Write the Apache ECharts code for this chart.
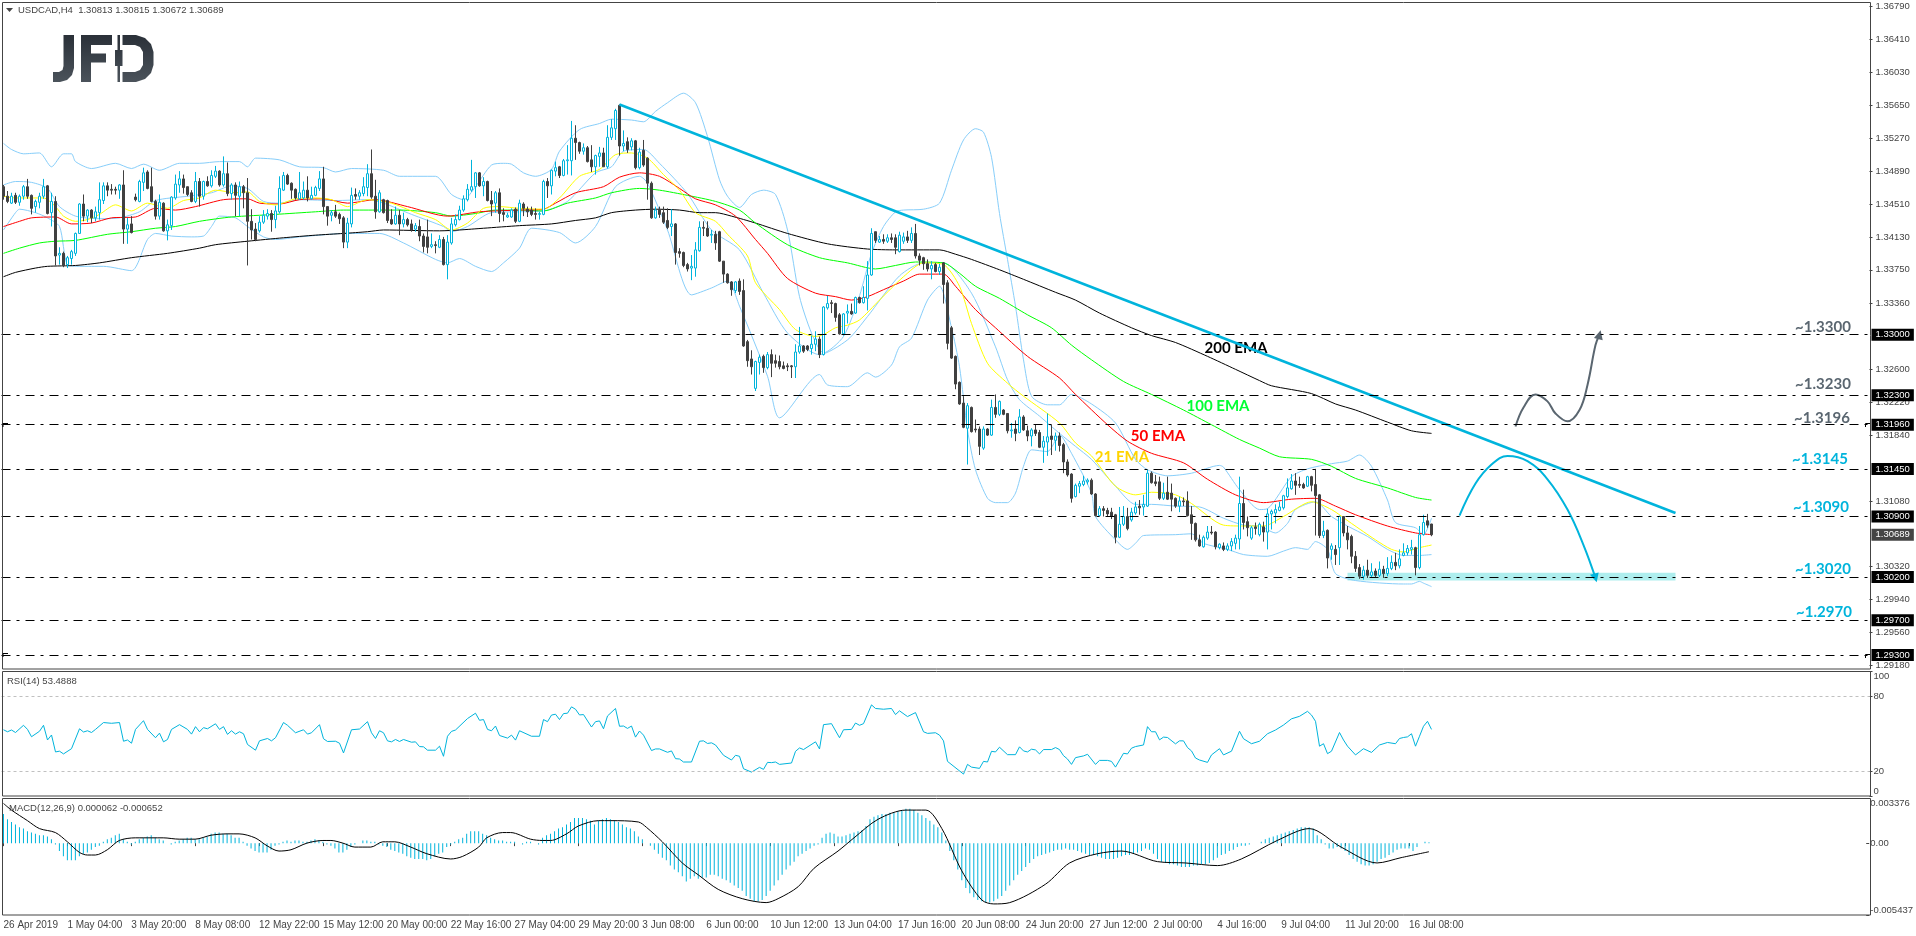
<!DOCTYPE html>
<html>

<head>
    <meta charset="utf-8">
    <script type="text/javascript" src="https://cdn.jsdelivr.net/npm/echarts@6/dist/echarts.min.js"></script>
    <title>USDCAD,H4</title>
    <style>html,body{margin:0;padding:0;background:#fff}</style>
</head>

<body>
    <div id="container" style="width:1916px;height:936px;"></div>
    <script type="text/javascript">
    // time axis, one label every 16 H4 bars
    var timeLabels = ['26 Apr 2019','1 May 04:00','3 May 20:00','8 May 08:00','12 May 22:00','15 May 12:00','20 May 00:00','22 May 16:00','27 May 04:00','29 May 20:00','3 Jun 08:00','6 Jun 00:00','10 Jun 12:00','13 Jun 04:00','17 Jun 16:00','20 Jun 08:00','24 Jun 20:00','27 Jun 12:00','2 Jul 00:00','4 Jul 16:00','9 Jul 04:00','11 Jul 20:00','16 Jul 08:00'];
    var priceTicks = [1.3679,1.3641,1.3603,1.3565,1.3527,1.3489,1.3451,1.3413,1.3375,1.3336,1.326,1.3222,1.3184,1.3108,1.3032,1.2994,1.2956,1.2918];
    var levels = [1.33,1.323,1.3196,1.3145,1.309,1.302,1.297,1.293];
    var lastPrice = 1.30689;
    var rsiTicks = [0,20,80,100];
    var macdTicks = [-0.005437,0,0.003376];

    // open, close, low, high
    var candles = [
    [1.3471,1.3460,1.3456,1.3473],[1.3460,1.3454,1.3452,1.3466],[1.3452,1.3460,1.3451,1.3464],[1.3461,1.3453,1.3451,1.3464],[1.3453,1.3460,1.3449,1.3462],[1.3460,1.3471,1.3456,1.3473],[1.3471,1.3460,1.3457,1.3480],[1.3461,1.3446,1.3439,1.3462],[1.3448,1.3454,1.3441,1.3456],[1.3453,1.3460,1.3446,1.3464],
    [1.3460,1.3471,1.3457,1.3480],[1.3472,1.3440,1.3439,1.3473],[1.3441,1.3454,1.3425,1.3464],[1.3454,1.3391,1.3380,1.3460],[1.3392,1.3394,1.3381,1.3401],[1.3394,1.3380,1.3378,1.3396],[1.3381,1.3389,1.3377,1.3391],[1.3388,1.3396,1.3381,1.3398],[1.3394,1.3417,1.3391,1.3418],[1.3417,1.3451,1.3417,1.3452],
    [1.3451,1.3437,1.3431,1.3462],[1.3437,1.3444,1.3430,1.3445],[1.3444,1.3435,1.3429,1.3445],[1.3435,1.3442,1.3431,1.3448],[1.3441,1.3456,1.3433,1.3476],[1.3455,1.3472,1.3451,1.3476],[1.3472,1.3467,1.3460,1.3476],[1.3468,1.3467,1.3462,1.3474],[1.3468,1.3467,1.3462,1.3471],[1.3467,1.3473,1.3457,1.3474],
    [1.3473,1.3422,1.3405,1.3490],[1.3422,1.3427,1.3405,1.3435],[1.3428,1.3418,1.3417,1.3437],[1.3459,1.3456,1.3454,1.3463],[1.3454,1.3477,1.3453,1.3479],[1.3476,1.3487,1.3466,1.3493],[1.3488,1.3469,1.3468,1.3490],[1.3471,1.3454,1.3453,1.3493],[1.3454,1.3437,1.3433,1.3456],[1.3437,1.3453,1.3433,1.3462],
    [1.3452,1.3420,1.3419,1.3453],[1.3420,1.3427,1.3409,1.3433],[1.3426,1.3459,1.3421,1.3460],[1.3458,1.3474,1.3456,1.3485],[1.3473,1.3480,1.3464,1.3489],[1.3480,1.3470,1.3463,1.3485],[1.3471,1.3462,1.3460,1.3471],[1.3464,1.3454,1.3453,1.3467],[1.3454,1.3477,1.3452,1.3488],[1.3477,1.3460,1.3448,1.3481],
    [1.3460,1.3477,1.3456,1.3478],[1.3477,1.3472,1.3471,1.3483],[1.3472,1.3484,1.3470,1.3490],[1.3483,1.3489,1.3481,1.3495],[1.3489,1.3473,1.3471,1.3490],[1.3473,1.3486,1.3471,1.3506],[1.3486,1.3463,1.3460,1.3499],[1.3463,1.3473,1.3456,1.3475],[1.3473,1.3461,1.3437,1.3476],[1.3460,1.3471,1.3437,1.3477],
    [1.3471,1.3464,1.3446,1.3473],[1.3464,1.3431,1.3380,1.3481],[1.3431,1.3421,1.3410,1.3445],[1.3422,1.3410,1.3408,1.3429],[1.3420,1.3430,1.3418,1.3437],[1.3430,1.3438,1.3428,1.3444],[1.3437,1.3440,1.3433,1.3445],[1.3440,1.3433,1.3419,1.3444],[1.3433,1.3443,1.3423,1.3449],[1.3442,1.3469,1.3440,1.3483],
    [1.3467,1.3484,1.3466,1.3488],[1.3484,1.3474,1.3473,1.3486],[1.3475,1.3467,1.3457,1.3476],[1.3468,1.3458,1.3456,1.3469],[1.3457,1.3464,1.3456,1.3488],[1.3458,1.3467,1.3456,1.3477],[1.3467,1.3458,1.3454,1.3483],[1.3457,1.3461,1.3456,1.3471],[1.3461,1.3470,1.3460,1.3472],[1.3469,1.3480,1.3466,1.3489],
    [1.3480,1.3448,1.3439,1.3494],[1.3448,1.3437,1.3426,1.3448],[1.3438,1.3441,1.3431,1.3444],[1.3442,1.3437,1.3435,1.3450],[1.3439,1.3434,1.3428,1.3441],[1.3435,1.3407,1.3400,1.3437],[1.3407,1.3429,1.3400,1.3435],[1.3428,1.3461,1.3424,1.3470],[1.3462,1.3460,1.3456,1.3469],[1.3460,1.3464,1.3456,1.3467],
    [1.3463,1.3471,1.3460,1.3482],[1.3470,1.3486,1.3460,1.3497],[1.3486,1.3459,1.3457,1.3514],[1.3460,1.3442,1.3434,1.3479],[1.3442,1.3464,1.3441,1.3467],[1.3456,1.3441,1.3440,1.3457],[1.3455,1.3432,1.3429,1.3456],[1.3433,1.3428,1.3427,1.3445],[1.3428,1.3438,1.3427,1.3448],[1.3438,1.3428,1.3415,1.3444],
    [1.3428,1.3433,1.3424,1.3441],[1.3433,1.3427,1.3425,1.3435],[1.3428,1.3421,1.3419,1.3433],[1.3422,1.3426,1.3419,1.3429],[1.3425,1.3414,1.3408,1.3433],[1.3414,1.3402,1.3395,1.3417],[1.3413,1.3401,1.3394,1.3433],[1.3402,1.3404,1.3400,1.3417],[1.3404,1.3403,1.3394,1.3408],[1.3401,1.3410,1.3400,1.3415],
    [1.3410,1.3381,1.3380,1.3413],[1.3381,1.3407,1.3364,1.3415],[1.3406,1.3428,1.3404,1.3435],[1.3427,1.3433,1.3425,1.3439],[1.3433,1.3444,1.3432,1.3449],[1.3444,1.3457,1.3442,1.3461],[1.3456,1.3468,1.3454,1.3474],[1.3467,1.3471,1.3465,1.3502],[1.3471,1.3487,1.3458,1.3488],[1.3487,1.3472,1.3471,1.3488],
    [1.3472,1.3477,1.3460,1.3482],[1.3477,1.3455,1.3454,1.3478],[1.3455,1.3451,1.3437,1.3466],[1.3452,1.3464,1.3441,1.3466],[1.3464,1.3440,1.3430,1.3469],[1.3441,1.3439,1.3431,1.3446],[1.3436,1.3438,1.3435,1.3441],[1.3436,1.3444,1.3435,1.3446],[1.3445,1.3431,1.3429,1.3447],[1.3431,1.3452,1.3430,1.3456],
    [1.3451,1.3446,1.3437,1.3453],[1.3445,1.3442,1.3436,1.3448],[1.3444,1.3439,1.3437,1.3448],[1.3440,1.3439,1.3433,1.3446],[1.3439,1.3440,1.3433,1.3442],[1.3439,1.3477,1.3438,1.3479],[1.3477,1.3472,1.3458,1.3481],[1.3472,1.3490,1.3462,1.3491],[1.3489,1.3493,1.3483,1.3500],[1.3494,1.3484,1.3481,1.3495],
    [1.3484,1.3501,1.3483,1.3503],[1.3501,1.3502,1.3485,1.3519],[1.3501,1.3527,1.3484,1.3547],[1.3527,1.3522,1.3502,1.3542],[1.3522,1.3512,1.3509,1.3523],[1.3512,1.3516,1.3508,1.3521],[1.3516,1.3500,1.3499,1.3518],[1.3502,1.3494,1.3488,1.3519],[1.3494,1.3507,1.3485,1.3508],[1.3506,1.3510,1.3494,1.3517],
    [1.3510,1.3494,1.3494,1.3516],[1.3494,1.3528,1.3492,1.3542],[1.3528,1.3539,1.3525,1.3549],[1.3538,1.3559,1.3525,1.3561],[1.3565,1.3518,1.3507,1.3566],[1.3518,1.3521,1.3512,1.3536],[1.3523,1.3514,1.3510,1.3528],[1.3517,1.3524,1.3513,1.3527],[1.3524,1.3493,1.3491,1.3525],[1.3493,1.3511,1.3491,1.3516],
    [1.3513,1.3496,1.3494,1.3525],[1.3504,1.3475,1.3456,1.3505],[1.3475,1.3435,1.3434,1.3477],[1.3435,1.3444,1.3434,1.3448],[1.3444,1.3439,1.3435,1.3448],[1.3441,1.3430,1.3428,1.3448],[1.3432,1.3424,1.3422,1.3446],[1.3425,1.3428,1.3414,1.3445],[1.3428,1.3395,1.3381,1.3429],[1.3396,1.3394,1.3389,1.3400],
    [1.3395,1.3380,1.3378,1.3396],[1.3381,1.3376,1.3373,1.3383],[1.3377,1.3379,1.3363,1.3392],[1.3377,1.3398,1.3367,1.3407],[1.3397,1.3424,1.3396,1.3431],[1.3424,1.3423,1.3414,1.3431],[1.3423,1.3414,1.3413,1.3431],[1.3415,1.3416,1.3406,1.3421],[1.3416,1.3406,1.3398,1.3420],[1.3419,1.3385,1.3384,1.3420],
    [1.3385,1.3370,1.3360,1.3385],[1.3370,1.3360,1.3359,1.3371],[1.3361,1.3352,1.3345,1.3362],[1.3351,1.3361,1.3348,1.3362],[1.3362,1.3350,1.3346,1.3365],[1.3351,1.3287,1.3286,1.3364],[1.3292,1.3270,1.3263,1.3294],[1.3272,1.3263,1.3254,1.3282],[1.3238,1.3269,1.3235,1.3270],[1.3268,1.3274,1.3254,1.3277],
    [1.3275,1.3262,1.3256,1.3277],[1.3262,1.3277,1.3260,1.3280],[1.3277,1.3267,1.3251,1.3283],[1.3270,1.3267,1.3262,1.3277],[1.3269,1.3263,1.3260,1.3276],[1.3264,1.3261,1.3260,1.3269],[1.3264,1.3263,1.3258,1.3267],[1.3264,1.3263,1.3250,1.3265],[1.3263,1.3280,1.3250,1.3289],[1.3280,1.3287,1.3278,1.3309],
    [1.3287,1.3281,1.3279,1.3288],[1.3287,1.3283,1.3281,1.3288],[1.3284,1.3289,1.3277,1.3299],[1.3289,1.3295,1.3281,1.3304],[1.3295,1.3277,1.3273,1.3298],[1.3277,1.3332,1.3276,1.3333],[1.3331,1.3336,1.3329,1.3345],[1.3337,1.3336,1.3325,1.3340],[1.3336,1.3320,1.3315,1.3337],[1.3323,1.3301,1.3300,1.3325],
    [1.3301,1.3324,1.3299,1.3325],[1.3325,1.3327,1.3313,1.3335],[1.3327,1.3324,1.3323,1.3336],[1.3325,1.3343,1.3324,1.3344],[1.3343,1.3337,1.3336,1.3344],[1.3337,1.3343,1.3336,1.3356],[1.3342,1.3369,1.3328,1.3385],[1.3369,1.3417,1.3368,1.3423],[1.3419,1.3409,1.3406,1.3419],[1.3407,1.3410,1.3406,1.3414],
    [1.3410,1.3408,1.3405,1.3416],[1.3408,1.3412,1.3406,1.3416],[1.3412,1.3410,1.3406,1.3417],[1.3412,1.3401,1.3393,1.3416],[1.3396,1.3415,1.3395,1.3419],[1.3408,1.3413,1.3405,1.3418],[1.3413,1.3409,1.3406,1.3420],[1.3409,1.3417,1.3406,1.3424],[1.3417,1.3391,1.3388,1.3428],[1.3391,1.3386,1.3380,1.3394],
    [1.3389,1.3382,1.3375,1.3390],[1.3382,1.3376,1.3373,1.3387],[1.3376,1.3380,1.3364,1.3385],[1.3381,1.3373,1.3372,1.3383],[1.3373,1.3378,1.3369,1.3382],[1.3383,1.3358,1.3336,1.3384],[1.3360,1.3290,1.3283,1.3363],[1.3308,1.3273,1.3272,1.3310],[1.3275,1.3243,1.3237,1.3276],[1.3245,1.3220,1.3219,1.3246],
    [1.3221,1.3193,1.3192,1.3229],[1.3192,1.3218,1.3150,1.3221],[1.3216,1.3188,1.3187,1.3217],[1.3191,1.3190,1.3187,1.3202],[1.3191,1.3171,1.3161,1.3194],[1.3169,1.3191,1.3167,1.3194],[1.3191,1.3184,1.3183,1.3192],[1.3184,1.3216,1.3183,1.3225],[1.3216,1.3208,1.3204,1.3231],[1.3208,1.3223,1.3206,1.3224],
    [1.3213,1.3208,1.3207,1.3214],[1.3209,1.3189,1.3186,1.3209],[1.3189,1.3190,1.3181,1.3198],[1.3191,1.3186,1.3177,1.3201],[1.3187,1.3205,1.3186,1.3214],[1.3205,1.3190,1.3189,1.3207],[1.3189,1.3183,1.3177,1.3195],[1.3183,1.3190,1.3171,1.3192],[1.3190,1.3186,1.3183,1.3196],[1.3187,1.3170,1.3169,1.3190],
    [1.3170,1.3177,1.3152,1.3183],[1.3176,1.3182,1.3160,1.3209],[1.3183,1.3179,1.3161,1.3196],[1.3178,1.3183,1.3166,1.3187],[1.3183,1.3172,1.3165,1.3187],[1.3173,1.3153,1.3140,1.3175],[1.3153,1.3138,1.3136,1.3156],[1.3139,1.3111,1.3106,1.3140],[1.3113,1.3126,1.3112,1.3128],[1.3125,1.3128,1.3117,1.3131],
    [1.3127,1.3131,1.3125,1.3137],[1.3130,1.3132,1.3127,1.3134],[1.3132,1.3116,1.3115,1.3134],[1.3116,1.3091,1.3090,1.3117],[1.3091,1.3099,1.3090,1.3102],[1.3099,1.3097,1.3090,1.3102],[1.3097,1.3093,1.3090,1.3100],[1.3095,1.3090,1.3087,1.3100],[1.3092,1.3066,1.3059,1.3093],[1.3066,1.3081,1.3065,1.3101],
    [1.3081,1.3090,1.3079,1.3102],[1.3090,1.3076,1.3074,1.3100],[1.3086,1.3095,1.3084,1.3100],[1.3094,1.3101,1.3092,1.3107],[1.3102,1.3100,1.3092,1.3109],[1.3101,1.3104,1.3091,1.3115],[1.3102,1.3140,1.3101,1.3144],[1.3140,1.3129,1.3128,1.3142],[1.3130,1.3128,1.3125,1.3138],[1.3130,1.3111,1.3109,1.3136],
    [1.3111,1.3117,1.3109,1.3129],[1.3118,1.3110,1.3109,1.3136],[1.3117,1.3110,1.3096,1.3128],[1.3111,1.3102,1.3100,1.3112],[1.3102,1.3108,1.3095,1.3113],[1.3108,1.3107,1.3102,1.3112],[1.3108,1.3091,1.3090,1.3119],[1.3092,1.3082,1.3063,1.3102],[1.3082,1.3063,1.3061,1.3083],[1.3063,1.3056,1.3055,1.3069],
    [1.3055,1.3066,1.3054,1.3068],[1.3065,1.3072,1.3063,1.3079],[1.3072,1.3071,1.3069,1.3079],[1.3072,1.3055,1.3052,1.3073],[1.3054,1.3058,1.3052,1.3059],[1.3056,1.3052,1.3050,1.3060],[1.3052,1.3056,1.3050,1.3059],[1.3056,1.3061,1.3050,1.3065],[1.3059,1.3065,1.3052,1.3069],[1.3064,1.3105,1.3052,1.3136],
    [1.3105,1.3083,1.3075,1.3121],[1.3084,1.3077,1.3067,1.3090],[1.3065,1.3077,1.3063,1.3079],[1.3078,1.3076,1.3069,1.3083],[1.3069,1.3081,1.3067,1.3083],[1.3078,1.3072,1.3061,1.3084],[1.3072,1.3093,1.3052,1.3099],[1.3093,1.3096,1.3075,1.3098],[1.3094,1.3098,1.3082,1.3104],[1.3097,1.3101,1.3096,1.3107],
    [1.3100,1.3114,1.3098,1.3115],[1.3113,1.3123,1.3111,1.3134],[1.3122,1.3131,1.3121,1.3139],[1.3131,1.3126,1.3115,1.3140],[1.3127,1.3126,1.3123,1.3136],[1.3127,1.3123,1.3122,1.3129],[1.3125,1.3136,1.3124,1.3137],[1.3136,1.3126,1.3119,1.3137],[1.3127,1.3114,1.3068,1.3145],[1.3115,1.3068,1.3065,1.3116],
    [1.3068,1.3073,1.3065,1.3085],[1.3074,1.3042,1.3030,1.3075],[1.3052,1.3056,1.3040,1.3059],[1.3052,1.3046,1.3034,1.3057],[1.3054,1.3090,1.3034,1.3091],[1.3090,1.3071,1.3067,1.3090],[1.3071,1.3063,1.3052,1.3079],[1.3067,1.3044,1.3036,1.3069],[1.3044,1.3030,1.3026,1.3050],[1.3031,1.3021,1.3018,1.3035],
    [1.3021,1.3028,1.3017,1.3033],[1.3028,1.3022,1.3019,1.3040],[1.3022,1.3026,1.3019,1.3036],[1.3027,1.3022,1.3020,1.3030],[1.3022,1.3029,1.3020,1.3038],[1.3029,1.3024,1.3019,1.3033],[1.3024,1.3030,1.3021,1.3043],[1.3030,1.3037,1.3028,1.3045],[1.3037,1.3033,1.3028,1.3048],[1.3033,1.3041,1.3030,1.3052],
    [1.3045,1.3048,1.3044,1.3059],[1.3048,1.3053,1.3045,1.3057],[1.3052,1.3054,1.3046,1.3063],[1.3054,1.3031,1.3022,1.3055],[1.3031,1.3069,1.3029,1.3079],[1.3069,1.3083,1.3068,1.3092],[1.3085,1.3080,1.3077,1.3093],[1.30813,1.30689,1.30672,1.30815]
    ];

    // indicator lines as [bar, value]
    var ema200 = [[0,1.3367],[3,1.3372],[8,1.3377],[11,1.3379],[18,1.3380],[24,1.3383],[32,1.3389],[41,1.3394],[49,1.3400],[53,1.3404],[61,1.3408],[70,1.3412],[78,1.3415],[85,1.3417],[91,1.3419],[95,1.3421],[109,1.3420],[114,1.3421],[120,1.3423],[129,1.3426],[137,1.3428],[143,1.3432],[148,1.3435],[152,1.3441],[158,1.3444],[163,1.3445],[169,1.3444],[174,1.3441],[178,1.3441],[182,1.3437],[188,1.3429],[196,1.3417],[206,1.3405],[216,1.3399],[223,1.3398],[234,1.3398],[238,1.3393],[242,1.3387],[249,1.3375],[255,1.3364],[263,1.3349],[268,1.3340],[274,1.3325],[282,1.3308],[287,1.3299],[293,1.3291],[301,1.3275],[308,1.3260],[314,1.3247],[317,1.3241],[327,1.3232],[333,1.3220],[338,1.3213],[346,1.3199],[352,1.3189],[357,1.3186]];
    var ema100 = [[0,1.3394],[4,1.3400],[9,1.3406],[13,1.3408],[18,1.3409],[26,1.3416],[32,1.3419],[38,1.3423],[43,1.3425],[49,1.3431],[57,1.3436],[68,1.3439],[78,1.3442],[85,1.3444],[93,1.3444],[99,1.3444],[108,1.3441],[112,1.3437],[118,1.3440],[123,1.3444],[129,1.3444],[135,1.3443],[141,1.3452],[148,1.3458],[152,1.3464],[159,1.3469],[164,1.3467],[171,1.3461],[178,1.3454],[184,1.3444],[188,1.3429],[196,1.3404],[204,1.3389],[211,1.3383],[218,1.3376],[223,1.3380],[228,1.3384],[235,1.3383],[239,1.3371],[243,1.3356],[249,1.3342],[256,1.3323],[262,1.3308],[267,1.3288],[272,1.3271],[280,1.3246],[287,1.3231],[295,1.3213],[302,1.3196],[309,1.3179],[314,1.3169],[319,1.3159],[327,1.3156],[332,1.3148],[338,1.3134],[346,1.3123],[353,1.3112],[357,1.3109]];
    var ema50 = [[0,1.3425],[4,1.3431],[7,1.3435],[13,1.3436],[17,1.3428],[22,1.3429],[27,1.3435],[33,1.3436],[38,1.3446],[43,1.3444],[48,1.3448],[55,1.3456],[61,1.3457],[64,1.3452],[69,1.3451],[74,1.3456],[80,1.3457],[86,1.3452],[93,1.3456],[101,1.3448],[111,1.3437],[119,1.3442],[129,1.3444],[135,1.3445],[138,1.3452],[143,1.3464],[150,1.3471],[154,1.3482],[159,1.3487],[164,1.3483],[169,1.3469],[173,1.3457],[178,1.3450],[183,1.3437],[188,1.3410],[191,1.3394],[196,1.3365],[203,1.3348],[208,1.3344],[212,1.3340],[216,1.3344],[220,1.3352],[225,1.3362],[229,1.3370],[235,1.3370],[238,1.3356],[243,1.3329],[248,1.3308],[256,1.3275],[264,1.3250],[268,1.3231],[276,1.3196],[281,1.3177],[287,1.3163],[295,1.3152],[301,1.3133],[308,1.3115],[315,1.3106],[322,1.3110],[328,1.3111],[333,1.3102],[338,1.3092],[346,1.3079],[353,1.3071],[357,1.3069]];
    var ema21 = [[0,1.3460],[3,1.3458],[10,1.3458],[13,1.3448],[15,1.3437],[18,1.3431],[21,1.3433],[24,1.3439],[28,1.3450],[32,1.3443],[36,1.3452],[41,1.3446],[45,1.3455],[49,1.3458],[53,1.3467],[58,1.3464],[61,1.3465],[64,1.3454],[68,1.3450],[73,1.3457],[78,1.3458],[82,1.3456],[86,1.3448],[91,1.3456],[97,1.3452],[103,1.3441],[108,1.3433],[112,1.3421],[116,1.3429],[120,1.3446],[124,1.3448],[129,1.3446],[135,1.3445],[139,1.3458],[144,1.3483],[149,1.3491],[153,1.3508],[157,1.3510],[161,1.3504],[165,1.3485],[169,1.3467],[173,1.3441],[178,1.3431],[181,1.3416],[186,1.3391],[188,1.3360],[194,1.3329],[198,1.3306],[203,1.3298],[205,1.3300],[208,1.3308],[211,1.3311],[214,1.3317],[219,1.3340],[225,1.3367],[230,1.3383],[235,1.3381],[239,1.3356],[242,1.3313],[246,1.3267],[251,1.3244],[255,1.3229],[264,1.3198],[268,1.3175],[272,1.3160],[278,1.3125],[283,1.3115],[287,1.3118],[293,1.3115],[297,1.3105],[305,1.3080],[310,1.3079],[315,1.3079],[320,1.3090],[327,1.3107],[332,1.3098],[337,1.3082],[343,1.3063],[347,1.3052],[350,1.3049],[354,1.3054],[357,1.3057]];
    var bandUpper = [[0,1.3521],[2,1.3514],[5,1.3509],[9,1.3510],[12,1.3494],[15,1.3509],[17,1.3509],[18,1.3500],[22,1.3492],[28,1.3498],[32,1.3492],[35,1.3497],[39,1.3490],[44,1.3498],[49,1.3498],[54,1.3500],[59,1.3500],[61,1.3494],[63,1.3504],[69,1.3502],[74,1.3494],[80,1.3493],[83,1.3488],[87,1.3492],[95,1.3490],[99,1.3483],[108,1.3483],[112,1.3462],[115,1.3456],[118,1.3471],[122,1.3496],[125,1.3498],[127,1.3497],[130,1.3487],[133,1.3483],[137,1.3491],[139,1.3512],[144,1.3537],[149,1.3544],[152,1.3549],[157,1.3548],[160,1.3546],[163,1.3558],[166,1.3568],[170,1.3579],[173,1.3568],[176,1.3529],[179,1.3479],[181,1.3460],[184,1.3447],[187,1.3462],[190,1.3467],[193,1.3462],[196,1.3421],[199,1.3344],[202,1.3302],[205,1.3279],[210,1.3298],[214,1.3345],[217,1.3394],[220,1.3425],[223,1.3442],[225,1.3444],[230,1.3445],[234,1.3452],[237,1.3490],[240,1.3525],[243,1.3538],[245,1.3534],[247,1.3505],[249,1.3440],[251,1.3387],[253,1.3333],[255,1.3271],[257,1.3229],[261,1.3219],[264,1.3219],[267,1.3231],[272,1.3220],[278,1.3198],[283,1.3156],[286,1.3144],[291,1.3137],[297,1.3140],[304,1.3149],[305,1.3147],[309,1.3121],[314,1.3098],[316,1.3099],[322,1.3136],[326,1.3145],[332,1.3151],[336,1.3154],[339,1.3161],[342,1.3148],[346,1.3109],[348,1.3083],[353,1.3077],[355,1.3069],[357,1.3088]];
    var bandMiddle = [[0,1.3473],[3,1.3477],[7,1.3476],[11,1.3469],[14,1.3448],[18,1.3437],[24,1.3434],[29,1.3435],[34,1.3442],[38,1.3455],[46,1.3460],[52,1.3464],[57,1.3472],[61,1.3469],[65,1.3454],[69,1.3452],[74,1.3456],[83,1.3455],[91,1.3456],[95,1.3452],[102,1.3439],[110,1.3425],[112,1.3419],[116,1.3425],[122,1.3441],[129,1.3442],[135,1.3443],[141,1.3454],[148,1.3487],[152,1.3494],[155,1.3512],[160,1.3514],[164,1.3498],[171,1.3463],[177,1.3421],[184,1.3398],[190,1.3348],[196,1.3302],[204,1.3277],[211,1.3294],[216,1.3321],[224,1.3368],[230,1.3383],[235,1.3383],[242,1.3348],[248,1.3286],[251,1.3248],[254,1.3225],[259,1.3206],[264,1.3186],[268,1.3171],[272,1.3156],[278,1.3125],[283,1.3104],[287,1.3104],[293,1.3102],[299,1.3101],[305,1.3088],[310,1.3080],[314,1.3079],[318,1.3071],[321,1.3082],[323,1.3098],[328,1.3107],[332,1.3090],[336,1.3079],[341,1.3067],[346,1.3052],[350,1.3045],[354,1.3045],[357,1.3046]];
    var bandLower = [[0,1.3421],[3,1.3441],[4,1.3445],[8,1.3441],[11,1.3435],[14,1.3425],[16,1.3381],[19,1.3379],[25,1.3379],[32,1.3374],[36,1.3410],[38,1.3417],[42,1.3414],[47,1.3413],[50,1.3414],[52,1.3425],[54,1.3437],[58,1.3435],[61,1.3425],[65,1.3413],[68,1.3410],[74,1.3413],[79,1.3415],[85,1.3417],[88,1.3417],[94,1.3417],[100,1.3406],[108,1.3387],[111,1.3383],[114,1.3388],[118,1.3379],[122,1.3373],[125,1.3383],[129,1.3400],[132,1.3423],[139,1.3418],[143,1.3406],[148,1.3425],[153,1.3471],[159,1.3483],[161,1.3475],[166,1.3421],[172,1.3346],[177,1.3354],[181,1.3362],[184,1.3333],[191,1.3252],[194,1.3204],[204,1.3254],[206,1.3242],[211,1.3240],[216,1.3256],[218,1.3251],[222,1.3265],[224,1.3286],[227,1.3296],[231,1.3340],[234,1.3356],[237,1.3308],[239,1.3263],[241,1.3190],[243,1.3144],[246,1.3111],[248,1.3106],[251,1.3106],[253,1.3117],[255,1.3148],[257,1.3167],[261,1.3165],[264,1.3184],[267,1.3163],[272,1.3117],[273,1.3090],[278,1.3063],[281,1.3052],[283,1.3059],[285,1.3068],[293,1.3069],[297,1.3070],[300,1.3059],[306,1.3052],[310,1.3046],[316,1.3044],[320,1.3050],[323,1.3054],[326,1.3052],[328,1.3061],[331,1.3052],[333,1.3024],[338,1.3016],[350,1.3012],[352,1.3012],[354,1.3015],[355,1.3013],[357,1.3009]];
    var rsiLine = [[0,53.2],[1,51.6],[2,53],[3,51],[5,56.8],[6,53.5],[7,47.6],[9,52],[10,56.8],[11,45],[12,49],[13,35.4],[14,36],[15,33.8],[17,38],[19,54],[20,51.4],[21,52.4],[22,51],[23,53.5],[25,59],[27,58.4],[29,59],[30,44],[31,45],[32,42.4],[33,53.5],[35,60.5],[36,53.5],[38,46.8],[39,50.5],[40,43.5],[41,45.4],[42,53.5],[44,57.3],[46,53.5],[47,49.7],[48,55.7],[49,51.6],[50,54.9],[51,54],[53,58],[54,53.5],[55,55.7],[56,49.5],[57,52.4],[58,49.7],[59,51.6],[60,50],[61,41.4],[63,36.8],[64,44.3],[66,46.2],[67,44.3],[68,46.8],[70,59],[71,56.8],[73,50.8],[75,53.2],[76,49.7],[77,50.8],[79,57.3],[80,46],[81,43.8],[83,44],[84,42.4],[85,34.6],[87,53.2],[89,53.8],[91,59.7],[92,50.8],[93,46.2],[94,52.4],[95,50.8],[96,44.3],[97,43.5],[98,45.4],[99,43.8],[100,45.4],[102,43.2],[103,43.5],[104,39.7],[105,39.5],[106,36.8],[108,36.8],[109,40],[110,31.9],[111,48],[112,51.9],[113,53],[116,62.2],[118,66.5],[119,60.8],[120,61.4],[121,53.5],[122,52.4],[123,56.2],[124,48.6],[126,46.5],[127,48.9],[128,44.9],[129,52.4],[132,48],[134,48],[135,61.4],[136,59.7],[137,65],[138,65.7],[139,61.4],[140,66.2],[141,66.5],[142,71.6],[143,69.7],[144,65.1],[145,65.4],[147,55.4],[148,59.7],[149,60.3],[150,54],[151,64.3],[153,70.3],[154,56],[155,56.2],[156,54.3],[157,56.2],[158,47.3],[159,52.2],[160,48.9],[162,36.5],[163,37.8],[164,37.8],[166,35.1],[167,36.2],[168,30],[169,29.7],[170,27.3],[172,27.3],[174,44],[175,44.3],[176,42.2],[177,42.7],[178,41],[180,32.7],[182,28.9],[183,32.7],[184,31.9],[185,21.9],[187,19.2],[189,23],[190,21.4],[191,27],[192,26.8],[193,27.3],[194,25.4],[197,26.5],[198,35.9],[199,38.6],[200,37.3],[203,43.5],[204,37.8],[205,57.3],[207,58.1],[209,46.8],[210,53.2],[212,53.5],[213,58.6],[214,56.8],[215,58.1],[217,73.2],[218,70.3],[220,69.7],[222,70.3],[223,65.4],[224,68.4],[226,63.8],[228,67],[230,51.6],[231,50.3],[233,50.8],[234,48.9],[235,44.3],[236,27.8],[240,17.6],[241,25.4],[242,23.2],[244,22.2],[245,27.8],[246,27.3],[247,35.9],[248,35.4],[249,39.2],[251,33.2],[253,33.2],[254,39.5],[255,36.2],[256,35.4],[257,37.6],[258,37],[259,33.8],[260,37.3],[262,37.3],[263,38.9],[264,37.3],[265,32.4],[266,29.7],[267,25.4],[268,30.8],[270,32.2],[271,33.5],[273,25.4],[274,28.6],[276,28.6],[277,27.8],[278,23.2],[280,34.3],[281,33.8],[282,38.4],[283,39.7],[285,41],[286,55.7],[287,51.6],[288,51.6],[289,45.1],[290,47.3],[291,47],[293,41.9],[294,44.3],[295,44.3],[296,38.9],[297,36.2],[298,30.5],[299,28.9],[301,27],[302,33],[304,38],[305,33],[307,36],[309,52],[310,46],[312,42],[314,44],[316,50],[318,53],[320,57],[322,62],[324,64],[326,68],[327,65],[328,60],[329,40],[330,42],[331,34],[332,36],[334,51],[335,45],[336,40],[338,33],[340,38],[342,35],[344,41],[346,43],[348,42],[349,46.2],[350,47],[351,47.5],[352,50],[353,40],[354,48],[355,56],[356,60],[357,53.49]];
    var macdHist = [.0022,.0018,.0016,.0014,.0012,.0011,.0009,.0008,.0007,.0006,.0006,.0005,.0003,-.0001,-.0006,-.0010,-.0013,-.0013,-.0013,-.0010,-.0008,-.0007,-.0005,-.0003,-.0002,.0001,.0003,.0004,.0006,.0007,.0003,.0001,-.0001,.0001,.0003,.0004,.0005,.0006,.0004,.0003,.0002,0,-.0001,.0001,.0002,.0003,.0004,.0004,.0003,.0003,.0004,.0005,.0007,.0008,.0008,.0007,.0007,.0006,.0004,.0004,.0001,-.0002,-.0004,-.0006,-.0007,-.0007,-.0007,-.0005,-.0002,-.0001,.0001,.0002,.0001,.0002,.0002,.0001,.0001,.0002,.0003,.0002,.0001,-.0001,-.0002,-.0004,-.0007,-.0007,-.0005,-.0003,-.0001,0,.0002,.0002,.0001,.0001,-.0001,-.0002,-.0003,-.0005,-.0006,-.0007,-.0008,-.0010,-.0011,-.0012,-.0012,-.0012,-.0013,-.0012,-.0010,-.0008,-.0007,-.0003,-.0001,.0001,.0003,.0004,.0007,.0009,.0009,.0009,.0007,.0006,.0004,.0003,.0002,.0002,.0001,.0001,.0001,0,-.0001,.0001,.0001,0,-.0001,.0004,.0006,.0007,.0009,.0011,.0012,.0014,.0016,.0019,.0019,.0019,.0018,.0017,.0014,.0017,.0018,.0019,.0018,.0017,.0016,.0014,.0012,.0011,.0009,.0005,.0003,0,-.0002,-.0005,-.0008,-.0011,-.0013,-.0017,-.0020,-.0022,-.0025,-.0029,-.0027,-.0025,-.0027,-.0026,-.0026,-.0024,-.0024,-.0025,-.0027,-.0028,-.0030,-.0032,-.0034,-.0036,-.0040,-.0042,-.0044,-.0044,-.0043,-.0040,-.0036,-.0032,-.0028,-.0024,-.0020,-.0017,-.0014,-.0010,-.0008,-.0006,-.0004,-.0002,-.0001,.0004,.0007,.0008,.0007,.0005,.0005,.0006,.0007,.0008,.0009,.0010,.0013,.0018,.0020,.0021,.0022,.0022,.0023,.0023,.0024,.0025,.0026,.0026,.0025,.0023,.0021,.0019,.0017,.0014,.0012,.0008,.0002,-.0006,-.0013,-.0020,-.0028,-.0034,-.0038,-.0041,-.0043,-.0044,-.0045,-.0045,-.0044,-.0042,-.0040,-.0036,-.0032,-.0028,-.0024,-.0021,-.0018,-.0015,-.0012,-.0010,-.0009,-.0008,-.0007,-.0006,-.0005,-.0005,-.0004,-.0005,-.0005,-.0006,-.0007,-.0008,-.0009,-.0009,-.0010,-.0011,-.0012,-.0012,-.0012,-.0011,-.0010,-.0009,-.0009,-.0008,-.0007,-.0006,-.0004,-.0005,-.0008,-.0012,-.0014,-.0015,-.0016,-.0016,-.0017,-.0018,-.0018,-.0018,-.0017,-.0017,-.0016,-.0016,-.0015,-.0013,-.0011,-.0009,-.0008,-.0006,-.0005,-.0003,-.0002,-.0002,-.0001,0,0,.0001,.0003,.0004,.0005,.0006,.0007,.0008,.0009,.0010,.0011,.0012,.0012,.0012,.0011,.0006,.0003,-.0001,-.0004,-.0004,-.0003,-.0004,-.0006,-.0009,-.0012,-.0014,-.0016,-.0017,-.0017,-.0016,-.0014,-.0012,-.0011,-.0009,-.0007,-.0005,-.0004,-.0004,-.0004,-.0006,-.0003,0,.0001,.00006];
    var macdSignal = [[0,.0030],[2,.0025],[6,.0017],[9,.0011],[13,.0008],[16,.0001],[19,-.0007],[21,-.0009],[23,-.0009],[26,-.0005],[29,.0002],[33,.0004],[37,.0004],[40,.0004],[44,.0003],[48,.0003],[52,.0006],[56,.0007],[59,.0007],[63,.0004],[66,-.0002],[69,-.0006],[72,-.0005],[76,0],[80,.0002],[82,.0002],[85,0],[88,-.0003],[92,-.0003],[95,.0001],[98,.0001],[102,-.0003],[106,-.0008],[112,-.0012],[115,-.0010],[119,-.0003],[121,.0004],[125,.0008],[127,.0008],[132,.0003],[135,.0002],[137,.0002],[141,.0007],[144,.0013],[149,.0017],[152,.0017],[159,.0016],[161,.0012],[165,.0001],[170,-.0015],[174,-.0024],[179,-.0035],[185,-.0042],[191,-.0045],[194,-.0042],[199,-.0033],[203,-.0019],[209,-.0006],[213,.0004],[219,.0018],[226,.0025],[231,.0025],[235,.0011],[240,-.0021],[245,-.0043],[248,-.0046],[252,-.0045],[261,-.0031],[267,-.0015],[274,-.0008],[280,-.0006],[289,-.0014],[296,-.0015],[304,-.0017],[310,-.0012],[319,.0002],[327,.0011],[335,-.0003],[344,-.0015],[350,-.0011],[357,-.00065]];

    // drawn objects on the price panel
    var trendLine = [[154,1.3566],[418,1.3094]];
    var supportZone = [[336,1.30251],[418,1.30159]];
    var bearPath = [[364,1.3091],[368,1.3128],[372,1.3150],[376,1.3160],[381,1.3154],[386,1.3133],[391,1.3098],[395,1.3057],[398,1.3019]];
    var bullPath = [[378,1.3194],[380,1.3216],[383,1.3231],[386,1.3223],[388,1.3209],[391,1.3200],[394,1.3213],[396,1.3242],[398,1.3288],[399,1.3300]];

    var barSlots = [];
    for (var i = 0; i < 467; i++) barSlots.push(String(i));

    var cyan = '#00b4dc', dark = '#404040', frame = '#444';
    var labelFont = 'Liberation Sans';

    var myChart = echarts.init(document.getElementById('container'));

    function tickAt(index) { return index % 16 === 0 && index / 16 < timeLabels.length; }

    function xAxisFor(gridIndex, showLabels) {
        return {
            type: 'category', gridIndex: gridIndex, data: barSlots, boundaryGap: true,
            axisLine: { show: false },
            axisTick: { show: showLabels, length: 3, alignWithLabel: true, interval: function (i) { return tickAt(i); }, lineStyle: { color: frame } },
            axisLabel: { show: showLabels, interval: function (i) { return tickAt(i); }, formatter: function (v, i) { return timeLabels[i / 16]; }, align: 'left', margin: 5, fontFamily: labelFont, fontSize: 10, color: frame, hideOverlap: false },
            splitLine: { show: false }
        };
    }

    function yAxisFor(gridIndex, min, max, ticks, fmt, margin, pinEnds) {
        return {
            type: 'value', gridIndex: gridIndex, position: 'right', min: min, max: max, scale: true,
            axisLine: { show: false },
            axisTick: { show: true, length: 3, customValues: ticks, lineStyle: { color: frame } },
            axisLabel: { customValues: ticks, formatter: fmt, margin: margin, fontFamily: labelFont, fontSize: 9.5, color: frame, verticalAlignMinLabel: pinEnds ? 'bottom' : null, verticalAlignMaxLabel: pinEnds ? 'top' : null, hideOverlap: false },
            splitLine: { show: false }
        };
    }

    function lineOf(data, color, width, z) {
        return { type: 'line', data: data, showSymbol: false, smooth: 0.25, silent: true, z: z || 2, lineStyle: { color: color, width: width || 1 }, itemStyle: { color: color } };
    }

    // one empty series per level so each carries its own mark line and price tag
    function levelSeries(value, drawLine, tagColor) {
        return {
            type: 'line', data: [], silent: true, z: 5,
            markLine: {
                silent: true, symbol: ['none', 'none'], animation: false, precision: 5,
                lineStyle: { color: drawLine ? '#000' : 'rgba(0,0,0,0)', width: 1, type: [9, 6, 3, 6] },
                label: { position: 'end', distance: 2, fontFamily: labelFont, fontSize: 9.5, padding: [1, 4], formatter: value.toFixed(5), backgroundColor: tagColor, color: '#fff' },
                data: [{ yAxis: value }]
            }
        };
    }

    function withArrow(path, rotate) {
        return path.map(function (p, k) {
            return k === path.length - 1 ? { value: p, symbol: 'triangle', symbolSize: 9, symbolRotate: rotate } : { value: p, symbol: 'none' };
        });
    }

    function arrowLine(path, color, rotate) {
        return { type: 'line', data: withArrow(path, rotate), smooth: 0.4, showSymbol: true, showAllSymbol: true, silent: true, z: 4, lineStyle: { color: color, width: 2 }, itemStyle: { color: color } };
    }

    function note(text, cx, cy, color) {
        return { type: 'text', x: cx, y: cy, silent: true, style: { text: text, fill: color, font: 'bold 15px Lato', textAlign: 'center', textVerticalAlign: 'middle' } };
    }

    function small(text, x, y) {
        return { type: 'text', x: x, y: y, silent: true, style: { text: text, fill: frame, font: '9.5px "Liberation Sans"', textVerticalAlign: 'middle' } };
    }

    function panel(y, h) {
        return { type: 'rect', silent: true, z: 10, shape: { x: 2.5, y: y, width: 1868, height: h }, style: { fill: 'none', stroke: frame, lineWidth: 1 } };
    }

    function notch(points) {
        return { type: 'polyline', silent: true, z: 10, shape: { points: points }, style: { fill: 'none', stroke: '#000', lineWidth: 1 } };
    }

    var logoFill = { type: 'linear', global: true, x: 0, y: 35, x2: 0, y2: 82, colorStops: [{ offset: 0, color: '#2a3038' }, { offset: 1, color: '#4b535b' }] };
    function logoPart(points) { return { type: 'polygon', silent: true, shape: { points: points }, style: { fill: logoFill } }; }

    var option = {
        animation: false,
        backgroundColor: '#fff',
        grid: [
            { left: 1.5, right: 46.5, top: 2.5, height: 666.5 },
            { left: 1.5, right: 46.5, top: 671.5, height: 124.5 },
            { left: 1.5, right: 46.5, top: 798.5, height: 116.5 }
        ],
        xAxis: [xAxisFor(0, false), xAxisFor(1, false), xAxisFor(2, true)],
        yAxis: [
            yAxisFor(0, 1.29138, 1.36838, priceTicks, function (v) { return v.toFixed(5); }, 6, false),
            yAxisFor(1, 0, 100, rsiTicks, function (v) { return String(v); }, 4, true),
            yAxisFor(2, -0.005437, 0.003376, macdTicks, function (v) { return v === 0 ? '0.00' : v.toFixed(6); }, 4, true)
        ],
        series: [
            lineOf(bandUpper, '#87cefa'), lineOf(bandMiddle, '#87cefa'), lineOf(bandLower, '#87cefa'),
            lineOf(ema200, '#000'), lineOf(ema100, '#00ff00'), lineOf(ema50, '#ff0000'), lineOf(ema21, '#ffff00'),
            {
                type: 'candlestick', name: 'USDCAD', data: candles, barWidth: 3, silent: true, z: 3,
                itemStyle: { color: '#fff', color0: dark, borderColor: cyan, borderColor0: dark, borderWidth: 1 },
                markArea: {
                    silent: true, z: 1,
                    itemStyle: { color: '#aeeeee' },
                    data: [[{ xAxis: supportZone[0][0], yAxis: supportZone[0][1] }, { xAxis: supportZone[1][0], yAxis: supportZone[1][1] }]]
                }
            },
            lineOf(trendLine, cyan, 2.5, 4),
            arrowLine(bearPath, cyan, 195),
            arrowLine(bullPath, '#5a6670', -15),
            {
                type: 'line', xAxisIndex: 1, yAxisIndex: 1, data: rsiLine, showSymbol: false, silent: true,
                lineStyle: { color: cyan, width: 1 }, itemStyle: { color: cyan },
                markLine: {
                    silent: true, symbol: ['none', 'none'], animation: false, label: { show: false },
                    lineStyle: { color: '#c0c0c0', width: 1, type: [3, 3] },
                    data: [{ yAxis: 80 }, { yAxis: 20 }]
                }
            },
            { type: 'bar', xAxisIndex: 2, yAxisIndex: 2, data: macdHist, barWidth: 1, silent: true, itemStyle: { color: cyan } },
            { type: 'line', xAxisIndex: 2, yAxisIndex: 2, data: macdSignal, smooth: 0.3, showSymbol: false, silent: true, z: 3, lineStyle: { color: '#000', width: 1 }, itemStyle: { color: '#000' } }
        ].concat(levels.map(function (v) { return levelSeries(v, true, '#000'); }), [levelSeries(lastPrice, false, frame)]),
        graphic: [
            panel(2.5, 666.5), panel(671.5, 124.5), panel(798.5, 116.5),
            notch([[3, 427], [3, 423.5], [8, 423.5]]), notch([[3, 657], [3, 653.5], [8, 653.5]]),
            notch([[1865.5, 427], [1865.5, 423.5], [1870, 423.5]]), notch([[1865.5, 658], [1865.5, 654.5], [1870, 654.5]]),
            { type: 'polygon', silent: true, shape: { points: [[6, 8], [13, 8], [9.5, 12]] }, style: { fill: frame } },
            small('USDCAD,H4  1.30813 1.30815 1.30672 1.30689', 18, 10.5),
            small('RSI(14) 53.4888', 7, 681),
            small('MACD(12,26,9) 0.000062 -0.000652', 9, 808),
            // logo
            logoPart([[63.5, 35], [74, 35], [74, 68], [72, 75], [67, 80], [60, 82], [53, 82], [53, 72], [59, 72], [62.5, 70], [63.5, 66]]),
            logoPart([[81, 35], [112, 35], [112, 45], [91, 45], [91, 53.5], [106, 53.5], [106, 62.5], [91, 62.5], [91, 82], [81, 82]]),
            logoPart([[117.5, 35], [120, 35], [120, 50], [122.5, 50], [122.5, 66], [120, 66], [120, 82], [117.5, 82], [117.5, 66], [115, 66], [115, 50], [117.5, 50]]),
            logoPart([[122.5, 35], [136, 35], [145, 38], [151, 44], [153.5, 52], [153.5, 65], [151, 73], [145, 79], [136, 82], [122.5, 82], [122.5, 72], [135, 72], [140, 70], [143, 65], [143, 52], [140, 47], [135, 45], [122.5, 45]]),
            // level and indicator captions
            note('~1.3300', 1823, 327, '#5a6670'),
            note('~1.3230', 1823, 384, '#5a6670'),
            note('~1.3196', 1822, 418, '#5a6670'),
            note('~1.3145', 1820, 459, cyan),
            note('~1.3090', 1821, 507, cyan),
            note('~1.3020', 1823, 569, cyan),
            note('~1.2970', 1824, 612, cyan),
            note('200 EMA', 1236, 348, '#000'),
            note('100 EMA', 1218, 406, '#00ff33'),
            note('50 EMA', 1158, 436, '#ff0000'),
            note('21 EMA', 1122, 457, '#ffd400')
        ]
    };

    myChart.setOption(option);
    </script>
</body>

</html>
